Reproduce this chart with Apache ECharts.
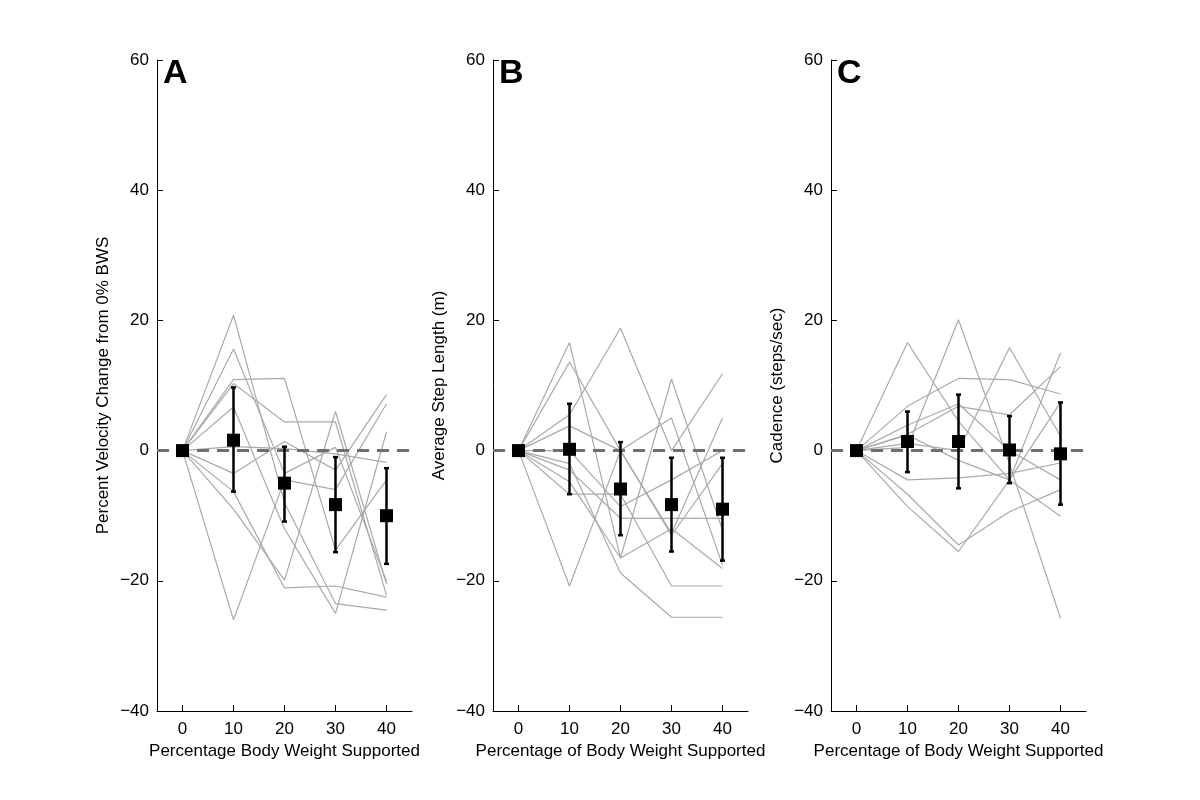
<!DOCTYPE html>
<html>
<head>
<meta charset="utf-8">
<script src="https://cdn.jsdelivr.net/npm/echarts@6/dist/echarts.min.js"></script>
<style>
html,body{margin:0;padding:0;background:#fff;}
#chart{width:1200px;height:800px;}
</style>
</head>
<body>
<div id="chart"></div>
<script>
// ---------- data ----------
const xValues = [0, 10, 20, 30, 40];
const xTickValues = [0, 10, 20, 30, 40];
const panelLetters = ['A', 'B', 'C'];
const yAxisNames = ['Percent Velocity Change from 0% BWS', 'Average Step Length (m)', 'Cadence (steps/sec)'];
const xAxisNames = ['Percentage Body Weight Supported', 'Percentage of Body Weight Supported', 'Percentage of Body Weight Supported'];

// Panel A: individual subjects
const velocitySubjects = [
  [0, 20.8, -8.0, -23.5, -24.5],
  [0, 15.6, -3.5, 0.5, -20.1],
  [0, 10.9, 11.1, -15.3, -4.5],
  [0, 10.3, 4.4, 4.4, -22.2],
  [0, 6.7, -12.0, -25.0, 2.9],
  [0, 0.6, 0.3, -0.5, -1.8],
  [0, -3.5, 1.4, -3.0, 8.6],
  [0, -6.3, -21.1, -20.8, -22.5],
  [0, -9.0, -19.9, 6.0, -20.5],
  [0, -26.0, -4.5, -6.0, 7.2]
];
const velocityMean = [0, 1.6, -5.0, -8.3, -10.0];
const velocityLow  = [0, -6.3, -10.9, -15.6, -17.4];
const velocityHigh = [0, 9.7, 0.6, -1.0, -2.7];

// Panel B
const stepSubjects = [
  [0, 16.6, -16.5, 11.0, -12.2],
  [0, 13.6, 0.0, -12.7, 5.0],
  [0, 5.5, 18.8, 0.0, 11.8],
  [0, 3.8, 0.0, 5.0, -17.6],
  [0, 0.0, -8.6, -4.5, 0.0],
  [0, -4.8, -16.5, -12.0, -18.1],
  [0, -6.7, -6.7, -20.8, -20.8],
  [0, -20.8, 0.0, -13.0, -2.0],
  [0, -2.0, -18.8, -25.6, -25.6],
  [0, -3.0, -10.4, -10.4, -10.4]
];
const stepMean = [0, 0.2, -5.9, -8.3, -9.0];
const stepLow  = [0, -6.7, -13.0, -15.5, -16.9];
const stepHigh = [0, 7.2, 1.3, -1.1, -1.1];

// Panel C
const cadenceSubjects = [
  [0, 16.6, 4.5, -4.5, -10.1],
  [0, 0.5, 20.1, -2.0, -25.8],
  [0, 6.8, 11.1, 10.9, 8.7],
  [0, 3.9, 7.2, 0.0, -4.5],
  [0, -6.7, -14.5, -9.4, -6.0],
  [0, -8.6, -15.5, -4.5, 15.0],
  [0, 1.1, 0.0, 15.8, 2.2],
  [0, -4.5, -4.2, -3.5, -1.9],
  [0, 2.5, 6.8, 5.5, 12.9],
  [0, 2.4, -1.5, -4.5, 7.4]
];
const cadenceMean = [0, 1.4, 1.4, 0.1, -0.5];
const cadenceLow  = [0, -3.3, -5.8, -5.0, -8.3];
const cadenceHigh = [0, 6.0, 8.6, 5.3, 7.4];

// ---------- build ----------
const panels = [
  {subjects: velocitySubjects, mean: velocityMean, low: velocityLow, high: velocityHigh},
  {subjects: stepSubjects, mean: stepMean, low: stepLow, high: stepHigh},
  {subjects: cadenceSubjects, mean: cadenceMean, low: cadenceLow, high: cadenceHigh}
];
const gridLefts = [157, 493, 831];
const FONT = '"Liberation Sans", Arial, Helvetica, sans-serif';
const FS = 17;

const grids = [], xAxes = [], yAxes = [], series = [], graphics = [];
panels.forEach((p, i) => {
  grids.push({left: gridLefts[i], top: 60, width: 255, height: 651, containLabel: false});
  xAxes.push({
    type: 'value', gridIndex: i, min: -5, max: 45,
    name: xAxisNames[i], nameLocation: 'middle', nameGap: 31,
    nameTextStyle: {color: '#000', fontSize: FS, fontFamily: FONT},
    axisLine: {show: true, onZero: false, lineStyle: {color: '#000', width: 1}},
    axisTick: {show: true, inside: true, length: 6, customValues: xTickValues, lineStyle: {color: '#000', width: 1}},
    axisLabel: {show: true, customValues: xTickValues, color: '#000', fontSize: FS, fontFamily: FONT, margin: 10},
    splitLine: {show: false}
  });
  yAxes.push({
    type: 'value', gridIndex: i, min: -40, max: 60, interval: 20,
    name: yAxisNames[i], nameLocation: 'middle', nameGap: 45,
    nameTextStyle: {color: '#000', fontSize: FS, fontFamily: FONT},
    axisLine: {show: true, onZero: false, lineStyle: {color: '#000', width: 1}},
    axisTick: {show: true, inside: true, length: 6, lineStyle: {color: '#000', width: 1}},
    axisLabel: {color: '#000', fontSize: FS, fontFamily: FONT, margin: 8,
      formatter: v => String(v).replace('-', '\u2212')},
    splitLine: {show: false}
  });
  p.subjects.forEach((s, k) => {
    series.push({
      type: 'line', xAxisIndex: i, yAxisIndex: i, silent: true,
      data: xValues.map((x, j) => [x, s[j]]),
      symbol: 'none', lineStyle: {color: '#a9a9a9', width: 1.2}, z: 2,
      markLine: k === 0 ? {
        silent: true, symbol: 'none', label: {show: false},
        lineStyle: {color: '#6f6f6f', width: 3, type: [12, 8]},
        data: [{yAxis: 0}], z: 3
      } : undefined
    });
  });
  series.push({
    type: 'custom', xAxisIndex: i, yAxisIndex: i, silent: true, z: 5,
    data: xValues.map((x, j) => [x, p.low[j], p.high[j]]).filter(d => d[1] !== d[2]),
    renderItem: (params, api) => {
      const lo = api.coord([api.value(0), api.value(1)]);
      const hi = api.coord([api.value(0), api.value(2)]);
      const st = {stroke: '#000', lineWidth: 2.5};
      const cap = 2.5;
      return {type: 'group', children: [
        {type: 'line', shape: {x1: lo[0], y1: lo[1], x2: hi[0], y2: hi[1]}, style: st},
        {type: 'line', shape: {x1: lo[0]-cap, y1: lo[1], x2: lo[0]+cap, y2: lo[1]}, style: st},
        {type: 'line', shape: {x1: hi[0]-cap, y1: hi[1], x2: hi[0]+cap, y2: hi[1]}, style: st}
      ]};
    }
  });
  series.push({
    type: 'scatter', xAxisIndex: i, yAxisIndex: i, silent: true, z: 6,
    data: xValues.map((x, j) => [x, p.mean[j]]),
    symbol: 'rect', symbolSize: 13, itemStyle: {color: '#000', opacity: 1}
  });
  graphics.push({
    type: 'text', left: gridLefts[i] + 6, top: 57,
    style: {text: panelLetters[i], font: 'bold 34px ' + FONT, fill: '#000'}
  });
});

const chart = echarts.init(document.getElementById('chart'), null, {renderer: 'canvas'});
chart.setOption({
  backgroundColor: '#fff',
  animation: false,
  grid: grids, xAxis: xAxes, yAxis: yAxes, series: series, graphic: graphics
});
</script>
</body>
</html>
